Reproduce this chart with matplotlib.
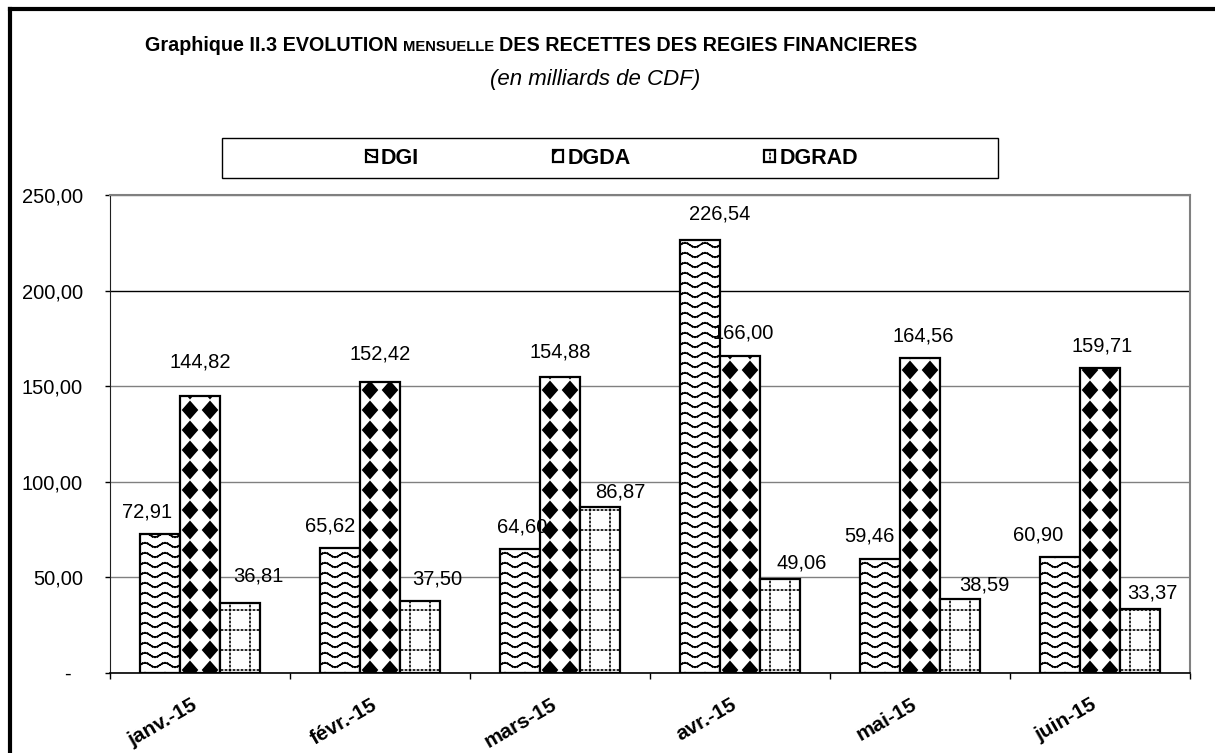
import numpy as np
import matplotlib
matplotlib.use('Agg')
import matplotlib.pyplot as plt
import matplotlib.hatch as mhatch
import matplotlib.transforms as mtransforms
from matplotlib.path import Path
from matplotlib.lines import Line2D
from matplotlib.patches import Rectangle

# Monthly receipts of the financial agencies (billions of CDF)
months = ['janv.-15', 'févr.-15', 'mars-15', 'avr.-15', 'mai-15', 'juin-15']
dgi = [72.91, 65.62, 64.60, 226.54, 59.46, 60.90]
dgda = [144.82, 152.42, 154.88, 166.00, 164.56, 159.71]
dgrad = [36.81, 37.50, 86.87, 49.06, 38.59, 33.37]
y_ticks = [0, 50, 100, 150, 200, 250]

# nudges of the value labels in pixels (dx, height above bar top)
dgi_nudge = [(-13, 22), (-10, 22), (2, 22), (20, 26), (-11, 23), (-22, 22)]
dgda_nudge = [(0, 34), (0, 28), (0, 25), (3, 23), (3, 22), (2, 22)]
dgrad_nudge = [(18, 27), (17, 22), (20, 15), (22, 16), (24, 14), (12, 16)]

W, H = 1215, 753


# Custom fill patterns: 'o' = waves (DGI), 'O' = diamonds (DGDA), '.' = dotted grid (DGRAD)
class WaveHatch(mhatch.HatchPatternBase):
    def __init__(self, hatch, density):
        self.rows = 10 if 'o' in hatch else 0
        self.waves = 5
        self.steps = 8
        self.num_vertices = self.rows * self.waves * self.steps * 2

    def set_vertices_and_codes(self, vertices, codes):
        xs = np.linspace(0, 1, self.waves * self.steps + 1)
        ys = 0.022 * np.sin(xs * self.waves * 2 * np.pi)
        k = 0
        for r in range(self.rows):
            y0 = (r + 0.5) / self.rows
            for i in range(len(xs) - 1):
                vertices[k] = (xs[i], y0 + ys[i])
                vertices[k + 1] = (xs[i + 1], y0 + ys[i + 1])
                codes[k] = Path.MOVETO
                codes[k + 1] = Path.LINETO
                k += 2


class DiamondHatch(mhatch.HatchPatternBase):
    def __init__(self, hatch, density):
        self.n = 5 if 'O' in hatch else 0
        self.num_vertices = self.n * self.n * 5

    def set_vertices_and_codes(self, vertices, codes):
        w, h = 0.072, 0.082
        shape = np.array([[0, h], [w, 0], [0, -h], [-w, 0], [0, h]])
        k = 0
        for i in range(self.n):
            for j in range(self.n):
                vertices[k:k + 5] = shape + [(i + 0.5) / self.n, (j + 0.5) / self.n]
                codes[k:k + 5] = [Path.MOVETO, Path.LINETO, Path.LINETO,
                                  Path.LINETO, Path.CLOSEPOLY]
                k += 5


class DotGridHatch(mhatch.HatchPatternBase):
    def __init__(self, hatch, density):
        self.lines = 5 if '.' in hatch else 0
        self.dots = 25
        self.num_vertices = self.lines * self.dots * 4

    def set_vertices_and_codes(self, vertices, codes):
        d = 0.005
        k = 0
        for i in range(self.lines):
            p = (i + 0.5) / self.lines
            for j in range(self.dots):
                q = (j + 0.5) / self.dots
                vertices[k:k + 4] = [(q - d, p), (q + d, p), (p, q - d), (p, q + d)]
                codes[k:k + 4] = [Path.MOVETO, Path.LINETO, Path.MOVETO, Path.LINETO]
                k += 4


mhatch._hatch_types = [WaveHatch, DiamondHatch, DotGridHatch]

plt.rcParams['font.family'] = ['Liberation Sans', 'DejaVu Sans']
plt.rcParams['hatch.linewidth'] = 1.2
plt.rcParams['hatch.color'] = 'black'

fig = plt.figure(figsize=(W / 100, H / 100), dpi=100)
ax = fig.add_axes([110 / W, 1 - 673 / H, 1080 / W, 478 / H])

x = np.arange(len(months))
bw = 0.222
series = [('DGI', dgi, 'o', dgi_nudge, -bw),
          ('DGDA', dgda, 'O', dgda_nudge, 0),
          ('DGRAD', dgrad, '.', dgrad_nudge, bw)]

for name, vals, hatch, nudge, off in series:
    ax.bar(x + off, vals, bw, color='white', edgecolor='black', linewidth=1.6,
           hatch=hatch, label=name, zorder=3)
    for xi, v, (dx, dy) in zip(x + off, vals, nudge):
        ax.annotate(f"{v:.2f}".replace('.', ','), xy=(xi, v),
                    xytext=(dx * 0.72, dy * 0.72), textcoords='offset points',
                    ha='center', va='center', fontsize=14.5, zorder=5)

ax.set_xlim(-0.5, len(months) - 0.5)
ax.set_ylim(0, 250)
ax.set_yticks(y_ticks)
ax.set_yticklabels(['-  ' if t == 0 else f"{t:.2f}".replace('.', ',') for t in y_ticks],
                   fontsize=14.5)
ax.tick_params(axis='y', direction='out', length=3.6, pad=16, width=1)

ax.set_xticks(x)
ax.set_xticklabels(months, fontsize=15, fontweight='bold', rotation=30, ha='right')
shift = mtransforms.ScaledTranslation(5 / 100, 0, fig.dpi_scale_trans)
for lab in ax.get_xticklabels():
    lab.set_transform(lab.get_transform() + shift)
ax.set_xticks(np.arange(-0.5, len(months)), minor=True)
ax.tick_params(axis='x', which='major', length=0, pad=16)
ax.tick_params(axis='x', which='minor', direction='out', length=4.5, width=1)

ax.grid(axis='y', color='#808080', linewidth=1, zorder=0)
ax.set_axisbelow(True)
ax.get_ygridlines()[4].set_color('black')
for side in ['top', 'right']:
    ax.spines[side].set_color('#808080')
    ax.spines[side].set_linewidth(1.5)
ax.spines['left'].set_color('#202020')
ax.spines['bottom'].set_color('black')
ax.spines['bottom'].set_linewidth(1.2)

# Title with small caps for "MENSUELLE", pieces laid out one after the other
renderer = fig.canvas.get_renderer()
base_y = 1 - 51 / H
x_px = 145
for piece, size in [('Graphique II.3 EVOLUTION', 14.2), ('MENSUELLE', 10.6),
                    ('DES RECETTES DES REGIES FINANCIERES', 14.2)]:
    t = fig.text(x_px / W, base_y, piece, fontsize=size, fontweight='bold',
                 va='baseline', ha='left')
    x_px = t.get_window_extent(renderer).x1 + 5
fig.text(595 / W, 1 - 79 / H, '(en milliards de CDF)', fontsize=16, style='italic',
         ha='center', va='center')

# Legend box
fig.patches.append(Rectangle((222 / W, 1 - 178 / H), 776 / W, 40 / H,
                             transform=fig.transFigure, facecolor='white',
                             edgecolor='black', linewidth=1))
fig.legend(loc='center', bbox_to_anchor=(612 / W, 1 - 158 / H), ncol=3, frameon=False,
           prop={'weight': 'bold', 'size': 15.5}, handlelength=0.5, handleheight=0.5,
           handletextpad=0.2, columnspacing=6.2)

# Outer frame of the chart
fig.add_artist(Line2D([10 / W, 10 / W], [0, 1 - 9 / H], color='black', linewidth=3,
                      transform=fig.transFigure, solid_capstyle='projecting'))
fig.add_artist(Line2D([10 / W, 1], [1 - 9 / H, 1 - 9 / H], color='black', linewidth=3,
                      transform=fig.transFigure, solid_capstyle='projecting'))

fig.savefig('out.png', dpi=100)
